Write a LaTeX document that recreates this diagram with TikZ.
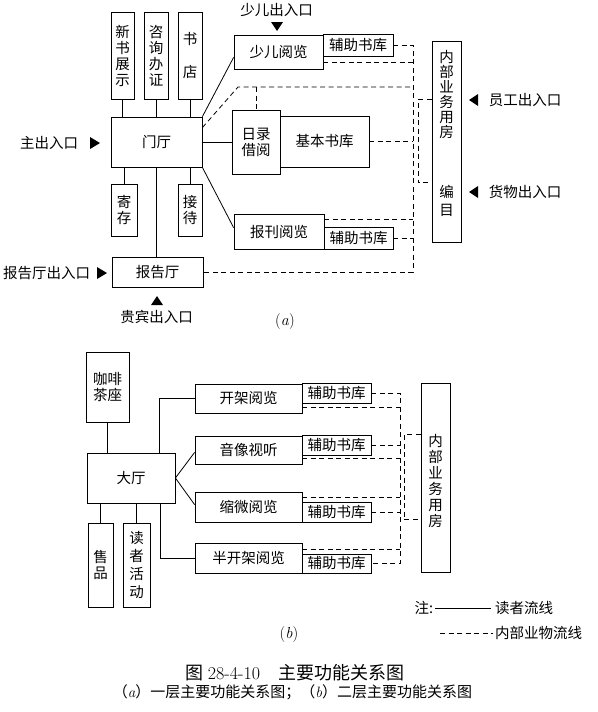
\documentclass[tikz,border=0pt]{standalone}
\usepackage{fontspec}
\newfontfamily\cjk{Noto Sans CJK SC}
\usetikzlibrary{calc}
\begin{document}
\begin{tikzpicture}[x=1pt,y=-1pt,
  bx/.style={draw, line width=0.8pt, inner sep=0pt, align=center, font={\cjk\fontsize{14.5}{16}\selectfont}},
  lab/.style={inner sep=0pt, align=center, font={\cjk\fontsize{14.5}{16}\selectfont}},
  sol/.style={line width=0.8pt},
  thn/.style={line width=0.5pt},
  dsh/.style={line width=0.8pt, dash pattern=on 5pt off 3.5pt},
  tri/.style={fill=black}]
\useasboundingbox (0,0) rectangle (597,712);

%%%%%%%%%%%%%%%% (a) %%%%%%%%%%%%%%%%
\node[bx, minimum width=23, minimum height=87] (xs) at (122.5,55.5) {新\\书\\展\\示};
\node[bx, minimum width=24, minimum height=87] (zx) at (156,55.5) {咨\\询\\办\\证};
\node[bx, minimum width=24, minimum height=87, font={\cjk\fontsize{14.5}{33}\selectfont}] (sd) at (190,56) {书\\店};
\node[bx, minimum width=91, minimum height=50] (mt) at (156.5,142) {门厅};
\node[bx, minimum width=26, minimum height=52] (jc) at (124,210) {寄\\存};
\node[bx, minimum width=24, minimum height=52] (jd) at (190,210) {接\\待};
\node[bx, minimum width=91, minimum height=30] (bgt) at (157.5,272) {报告厅};
\node[bx, minimum width=89, minimum height=34] (se) at (278.5,52) {少儿阅览};
\node[bx, minimum width=70, minimum height=22] (fz1) at (358,45) {辅助书库};
\node[bx, minimum width=48, minimum height=64] (ml) at (256,142) {日录\\借阅};
\node[bx, minimum width=89, minimum height=51] (jb) at (324.5,141.5) {基本书库};
\node[bx, minimum width=90, minimum height=35] (bk) at (279,231.5) {报刊阅览};
\node[bx, minimum width=69, minimum height=22] (fz2) at (358.5,238) {辅助书库};
\node[bx, minimum width=29, minimum height=201] (nb) at (446.5,141.5) {};
\node[lab, font={\cjk\fontsize{14.5}{15}\selectfont}] (nbt) at (446.5,94.5) {内\\部\\业\\务\\用\\房};
\node[lab, font={\cjk\fontsize{14.5}{18}\selectfont}] (nbb) at (446.5,201) {编\\目};

% entrances
\node[lab] (zk) at (49,143) {主出入口};
\fill[tri] (90,137) -- (100,143) -- (90,149) -- cycle;
\node[lab] (bk0) at (46.5,273) {报告厅出入口};
\fill[tri] (97,267) -- (107,273) -- (97,279) -- cycle;
\node[lab] (sek) at (276.5,10) {少儿出入口};
\fill[tri] (271,22) -- (283,22) -- (277,31) -- cycle;
\node[lab] (gb) at (156.5,317) {贵宾出入口};
\fill[tri] (151,305) -- (163,305) -- (157,296) -- cycle;
\node[lab] (yg) at (525,100) {员工出入口};
\fill[tri] (478,94) -- (469,100) -- (478,106) -- cycle;
\node[lab] (hw) at (525,192) {货物出入口};
\fill[tri] (478,186) -- (469,192) -- (478,198) -- cycle;
\node[inner sep=0pt, font=\fontsize{16}{18}\selectfont] (la) at (285,322) {(\textit{a})};

% reader flow (a)
\draw[sol] (xs.south) -- (xs.south |- mt.north);
\draw[sol] (zx.south) -- (zx.south |- mt.north);
\draw[sol] (sd.south) -- (sd.south |- mt.north);
\draw[sol] (mt.north east) -- ($(se.south west)+(0,-12)$);
\draw[sol] (mt.east) -- (ml.west);
\draw[sol] (mt.south east) -- ($(bk.north west)+(0,14)$);
\draw[sol] (jc.north) -- (jc.north |- mt.south);
\draw[sol] (jd.north) -- (jd.north |- mt.south);
\draw[thn] (mt.south) -- (mt.south |- bgt.north);

% internal flow (a)
\coordinate (ta) at (413,0);
\coordinate (tb) at (418,0);
\draw[dsh] (fz1.east) -- (fz1.east -| ta) -- (bgt.east -| ta) -- (bgt.east);
\coordinate (d1) at ($(se.south east)+(0,-7)$);
\draw[dsh] (d1) -- (d1 -| ta);
\coordinate (m1) at ($(mt.north east)+(0,11)$);
\coordinate (m2) at (238,87);
\draw[dsh] (m1) -- (m2) -- (m2 -| ta);
\draw[dsh] (ml.north |- m2) -- (ml.north);
\draw[dsh] (jb.east) -- (jb.east -| ta);
\coordinate (d2) at ($(bk.north east)+(0,6)$);
\draw[dsh] (d2) -- (d2 -| ta);
\draw[dsh] (fz2.east) -- (fz2.east -| ta);
\coordinate (n1) at ($(nb.north west)+(0,59)$);
\coordinate (n2) at ($(nb.north west)+(0,142)$);
\draw[dsh] (n1) -- (n1 -| tb) -- (n2 -| tb) -- (n2);

%%%%%%%%%%%%%%%% (b) %%%%%%%%%%%%%%%%
\node[bx, minimum width=43, minimum height=70] (kf) at (107.5,387) {咖啡\\茶座};
\node[bx, minimum width=88, minimum height=50] (dt) at (131,478) {大厅};
\node[bx, minimum width=25, minimum height=84] (sp) at (100.5,565) {售\\品};
\node[bx, minimum width=27, minimum height=84, font={\cjk\fontsize{14.5}{18}\selectfont}] (dz) at (136.5,565) {读\\者\\活\\动};
\node[bx, minimum width=107, minimum height=29] (kj) at (248.5,398.5) {开架阅览};
\node[bx, minimum width=107, minimum height=28] (yx) at (248.5,450) {音像视听};
\node[bx, minimum width=107, minimum height=30] (sw) at (248.5,507) {缩微阅览};
\node[bx, minimum width=107, minimum height=30] (bkj) at (248.5,558) {半开架阅览};
\node[bx, minimum width=69, minimum height=20] (fb1) at (336.5,393) {辅助书库};
\node[bx, minimum width=69, minimum height=20] (fb2) at (336.5,445) {辅助书库};
\node[bx, minimum width=69, minimum height=20] (fb3) at (336.5,512) {辅助书库};
\node[bx, minimum width=69, minimum height=19] (fb4) at (336.5,563.5) {辅助书库};
\node[bx, minimum width=29, minimum height=189] (nb2) at (435.5,477.5) {};
\node[lab] (nb2t) at (435.5,481) {内\\部\\业\\务\\用\\房};

% reader flow (b)
\draw[sol] (kf.south) -- (kf.south |- dt.north);
\coordinate (c1) at ($(dt.north west)+(73,0)$);
\draw[sol] (kj.west) -| (c1);
\draw[sol] (dt.east) -- ($(yx.south west)+(0,-12)$);
\draw[sol] (dt.east) -- ($(sw.north west)+(0,13)$);
\coordinate (c2) at ($(dt.south west)+(74,0)$);
\draw[sol] (bkj.west) -| (c2);
\draw[sol] (sp.north) -- (sp.north |- dt.south);
\draw[sol] (dz.north) -- (dz.north |- dt.south);

% internal flow (b)
\coordinate (tc) at (400,0);
\coordinate (td) at (404,0);
\draw[dsh] (fb1.east) -- (fb1.east -| tc) -- (fb4.east -| tc) -- (fb4.east);
\coordinate (e1) at ($(kj.south east)+(0,-6)$);
\draw[dsh] (e1) -- (e1 -| tc);
\draw[dsh] (fb2.east) -- (fb2.east -| tc);
\coordinate (e2) at ($(yx.south east)+(0,-6)$);
\draw[dsh] (e2) -- (e2 -| tc);
\coordinate (e3) at ($(sw.north east)+(0,6)$);
\draw[dsh] (e3) -- (e3 -| tc);
\draw[dsh] (fb3.east) -- (fb3.east -| tc);
\coordinate (e4) at ($(bkj.north east)+(0,7)$);
\draw[dsh] (e4) -- (e4 -| tc);
\coordinate (p1) at ($(nb2.north west)+(0,52)$);
\coordinate (p2) at ($(nb2.north west)+(0,137)$);
\draw[dsh] (p1) -- (p1 -| td) -- (p2 -| td) -- (p2);

% legend
\node[lab] (zhu) at (424,608) {注:};
\node[lab, anchor=west] (lg1) at (495,608) {读者流线};
\node[lab, anchor=west] (lg2) at (495,633) {内部业物流线};
\coordinate (s1) at (435,608);
\coordinate (s2) at (440,633);
\draw[sol] (s1) -- ($(lg1.west)+(-4,0)$);
\draw[dsh] (s2) -- ($(lg2.west)+(-2,0)$);
\node[inner sep=0pt, font=\fontsize{16}{18}\selectfont] (lb) at (289,634) {(\textit{b})};

% captions
\node[inner sep=0pt, font={\cjk\fontsize{18}{20}\selectfont}] (cap) at (295,673) {图 {\rmfamily 28-4-10}\quad 主要功能关系图};
\node[inner sep=0pt, font={\cjk\fontsize{15}{18}\selectfont}] (sub) at (292.5,692) {（{\rmfamily\itshape a}）一层主要功能关系图；（{\rmfamily\itshape b}）二层主要功能关系图};
\end{tikzpicture}
\end{document}
